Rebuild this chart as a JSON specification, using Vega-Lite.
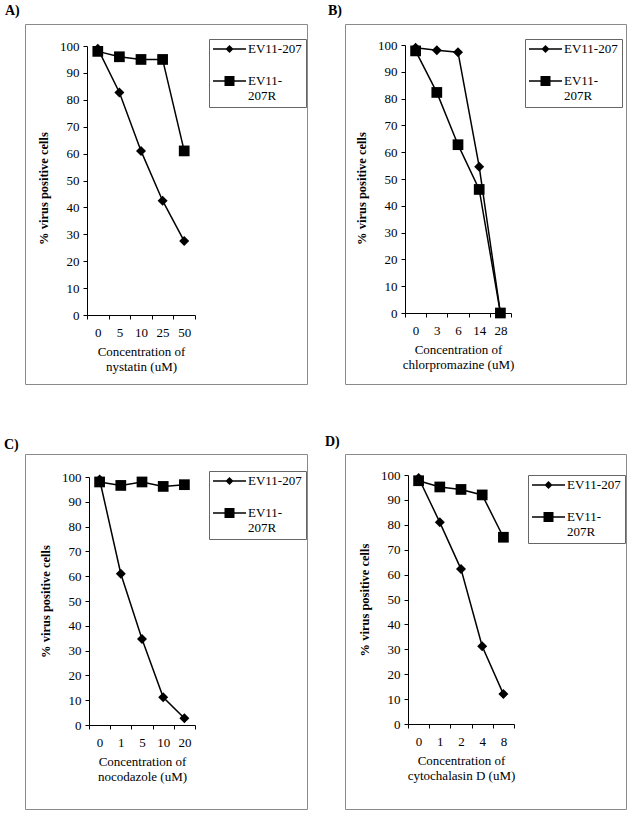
{
  "$schema": "https://vega.github.io/schema/vega-lite/v6.json",
  "padding": {"left": 3, "top": 3, "right": 0, "bottom": 0},
  "bounds": "flush",
  "columns": 2,
  "spacing": {"row": 70, "column": 38},
  "resolve": {"scale": {"shape": "independent"}, "legend": {"shape": "independent"}},
  "concat": [
    {
      "width": 282, "height": 360,
      "title": {"text": "A)", "dx": -20, "offset": 6},
      "data": {"values": [
        {"conc": "0", "series": "EV11-207", "value": 99},
        {"conc": "5", "series": "EV11-207", "value": 82.7},
        {"conc": "10", "series": "EV11-207", "value": 61},
        {"conc": "25", "series": "EV11-207", "value": 42.5},
        {"conc": "50", "series": "EV11-207", "value": 27.5},
        {"conc": "0", "series": "EV11-207R", "value": 98},
        {"conc": "5", "series": "EV11-207R", "value": 96},
        {"conc": "10", "series": "EV11-207R", "value": 95},
        {"conc": "25", "series": "EV11-207R", "value": 95},
        {"conc": "50", "series": "EV11-207R", "value": 61}
      ]},
      "encoding": {
        "x": {"field": "conc", "type": "ordinal", "sort": ["0", "5", "10", "25", "50"],
              "scale": {"range": [62, 170], "paddingInner": 0, "paddingOuter": 0},
              "axis": {"offset": -69, "tickBand": "extent", "title": ["Concentration of", "nystatin (uM)"]}},
        "y": {"field": "value", "type": "quantitative",
              "scale": {"domain": [0, 100], "range": [291, 22], "nice": false},
              "axis": {"offset": -62, "titleY": 164, "values": [0, 10, 20, 30, 40, 50, 60, 70, 80, 90, 100], "title": "% virus positive cells"}}
      },
      "layer": [
        {"mark": {"type": "line", "color": "black", "strokeWidth": 1.5}, "encoding": {"detail": {"field": "series"}}},
        {"transform": [{"filter": "datum.series == 'EV11-207'"}], "mark": {"type": "point", "shape": "diamond", "filled": true, "color": "black", "opacity": 1, "size": 100}},
        {"transform": [{"filter": "datum.series == 'EV11-207R'"}], "mark": {"type": "point", "shape": "square", "filled": true, "color": "black", "opacity": 1, "size": 115}},
        {"mark": {"type": "point", "filled": true, "color": "black", "opacity": 0},
         "encoding": {"shape": {"field": "series", "type": "nominal",
           "scale": {"domain": ["EV11-207", "EV11-207R"], "range": ["M-1,-0.47H2.3V-0.33H-1ZM0.25,-0.4L0.65,-0.8L1.05,-0.4L0.65,0Z", "M-1,-0.47H2.3V-0.33H-1ZM0.15,-0.9H1.15V0.1H0.15Z"]},
           "legend": {"orient": "none", "legendX": 184, "legendY": 15, "title": null,
                      "labelExpr": "datum.label == 'EV11-207R' ? ['EV11-', '207R'] : datum.label"}}}}
      ]
    },
    {
      "width": 281, "height": 360,
      "title": {"text": "B)", "dx": -17, "offset": 6},
      "data": {"values": [
        {"conc": "0", "series": "EV11-207", "value": 99},
        {"conc": "3", "series": "EV11-207", "value": 98},
        {"conc": "6", "series": "EV11-207", "value": 97.3},
        {"conc": "14", "series": "EV11-207", "value": 54.6},
        {"conc": "28", "series": "EV11-207", "value": 0},
        {"conc": "0", "series": "EV11-207R", "value": 97.8},
        {"conc": "3", "series": "EV11-207R", "value": 82.3},
        {"conc": "6", "series": "EV11-207R", "value": 62.8},
        {"conc": "14", "series": "EV11-207R", "value": 46.1},
        {"conc": "28", "series": "EV11-207R", "value": 0}
      ]},
      "encoding": {
        "x": {"field": "conc", "type": "ordinal", "sort": ["0", "3", "6", "14", "28"],
              "scale": {"range": [60, 166], "paddingInner": 0, "paddingOuter": 0},
              "axis": {"offset": -71, "tickBand": "extent", "title": ["Concentration of", "chlorpromazine (uM)"]}},
        "y": {"field": "value", "type": "quantitative",
              "scale": {"domain": [0, 100], "range": [289, 21], "nice": false},
              "axis": {"offset": -60, "titleY": 164, "values": [0, 10, 20, 30, 40, 50, 60, 70, 80, 90, 100], "title": "% virus positive cells"}}
      },
      "layer": [
        {"mark": {"type": "line", "color": "black", "strokeWidth": 1.5}, "encoding": {"detail": {"field": "series"}}},
        {"transform": [{"filter": "datum.series == 'EV11-207'"}], "mark": {"type": "point", "shape": "diamond", "filled": true, "color": "black", "opacity": 1, "size": 100}},
        {"transform": [{"filter": "datum.series == 'EV11-207R'"}], "mark": {"type": "point", "shape": "square", "filled": true, "color": "black", "opacity": 1, "size": 115}},
        {"mark": {"type": "point", "filled": true, "color": "black", "opacity": 0},
         "encoding": {"shape": {"field": "series", "type": "nominal",
           "scale": {"domain": ["EV11-207", "EV11-207R"], "range": ["M-1,-0.47H2.3V-0.33H-1ZM0.25,-0.4L0.65,-0.8L1.05,-0.4L0.65,0Z", "M-1,-0.47H2.3V-0.33H-1ZM0.15,-0.9H1.15V0.1H0.15Z"]},
           "legend": {"orient": "none", "legendX": 180, "legendY": 15, "title": null,
                      "labelExpr": "datum.label == 'EV11-207R' ? ['EV11-', '207R'] : datum.label"}}}}
      ]
    },
    {
      "width": 282, "height": 355,
      "title": {"text": "C)", "dx": -21, "offset": 2},
      "data": {"values": [
        {"conc": "0", "series": "EV11-207", "value": 99},
        {"conc": "1", "series": "EV11-207", "value": 61},
        {"conc": "5", "series": "EV11-207", "value": 34.7},
        {"conc": "10", "series": "EV11-207", "value": 11.2},
        {"conc": "20", "series": "EV11-207", "value": 2.7},
        {"conc": "0", "series": "EV11-207R", "value": 98},
        {"conc": "1", "series": "EV11-207R", "value": 96.6},
        {"conc": "5", "series": "EV11-207R", "value": 98},
        {"conc": "10", "series": "EV11-207R", "value": 96.2},
        {"conc": "20", "series": "EV11-207R", "value": 96.9}
      ]},
      "encoding": {
        "x": {"field": "conc", "type": "ordinal", "sort": ["0", "1", "5", "10", "20"],
              "scale": {"range": [64, 170], "paddingInner": 0, "paddingOuter": 0},
              "axis": {"offset": -84, "tickBand": "extent", "title": ["Concentration of", "nocodazole (uM)"]}},
        "y": {"field": "value", "type": "quantitative",
              "scale": {"domain": [0, 100], "range": [271, 23], "nice": false},
              "axis": {"offset": -64, "values": [0, 10, 20, 30, 40, 50, 60, 70, 80, 90, 100], "title": "% virus positive cells"}}
      },
      "layer": [
        {"mark": {"type": "line", "color": "black", "strokeWidth": 1.5}, "encoding": {"detail": {"field": "series"}}},
        {"transform": [{"filter": "datum.series == 'EV11-207'"}], "mark": {"type": "point", "shape": "diamond", "filled": true, "color": "black", "opacity": 1, "size": 100}},
        {"transform": [{"filter": "datum.series == 'EV11-207R'"}], "mark": {"type": "point", "shape": "square", "filled": true, "color": "black", "opacity": 1, "size": 115}},
        {"mark": {"type": "point", "filled": true, "color": "black", "opacity": 0},
         "encoding": {"shape": {"field": "series", "type": "nominal",
           "scale": {"domain": ["EV11-207", "EV11-207R"], "range": ["M-1,-0.47H2.3V-0.33H-1ZM0.25,-0.4L0.65,-0.8L1.05,-0.4L0.65,0Z", "M-1,-0.47H2.3V-0.33H-1ZM0.15,-0.9H1.15V0.1H0.15Z"]},
           "legend": {"orient": "none", "legendX": 184, "legendY": 17, "title": null,
                      "labelExpr": "datum.label == 'EV11-207R' ? ['EV11-', '207R'] : datum.label"}}}}
      ]
    },
    {
      "width": 281, "height": 355,
      "title": {"text": "D)", "dx": -20, "offset": 5},
      "data": {"values": [
        {"conc": "0", "series": "EV11-207", "value": 98.8},
        {"conc": "1", "series": "EV11-207", "value": 81},
        {"conc": "2", "series": "EV11-207", "value": 62.2},
        {"conc": "4", "series": "EV11-207", "value": 31.2},
        {"conc": "8", "series": "EV11-207", "value": 12},
        {"conc": "0", "series": "EV11-207R", "value": 97.7},
        {"conc": "1", "series": "EV11-207R", "value": 95.2},
        {"conc": "2", "series": "EV11-207R", "value": 94.2},
        {"conc": "4", "series": "EV11-207R", "value": 92},
        {"conc": "8", "series": "EV11-207R", "value": 75}
      ]},
      "encoding": {
        "x": {"field": "conc", "type": "ordinal", "sort": ["0", "1", "2", "4", "8"],
              "scale": {"range": [63, 169], "paddingInner": 0, "paddingOuter": 0},
              "axis": {"offset": -85, "tickBand": "extent", "title": ["Concentration of", "cytochalasin D (uM)"]}},
        "y": {"field": "value", "type": "quantitative",
              "scale": {"domain": [0, 100], "range": [270, 21], "nice": false},
              "axis": {"offset": -63, "values": [0, 10, 20, 30, 40, 50, 60, 70, 80, 90, 100], "title": "% virus positive cells"}}
      },
      "layer": [
        {"mark": {"type": "line", "color": "black", "strokeWidth": 1.5}, "encoding": {"detail": {"field": "series"}}},
        {"transform": [{"filter": "datum.series == 'EV11-207'"}], "mark": {"type": "point", "shape": "diamond", "filled": true, "color": "black", "opacity": 1, "size": 100}},
        {"transform": [{"filter": "datum.series == 'EV11-207R'"}], "mark": {"type": "point", "shape": "square", "filled": true, "color": "black", "opacity": 1, "size": 115}},
        {"mark": {"type": "point", "filled": true, "color": "black", "opacity": 0},
         "encoding": {"shape": {"field": "series", "type": "nominal",
           "scale": {"domain": ["EV11-207", "EV11-207R"], "range": ["M-1,-0.47H2.3V-0.33H-1ZM0.25,-0.4L0.65,-0.8L1.05,-0.4L0.65,0Z", "M-1,-0.47H2.3V-0.33H-1ZM0.15,-0.9H1.15V0.1H0.15Z"]},
           "legend": {"orient": "none", "legendX": 183, "legendY": 21, "title": null,
                      "labelExpr": "datum.label == 'EV11-207R' ? ['EV11-', '207R'] : datum.label"}}}}
      ]
    }
  ],
  "config": {
    "background": "white",
    "font": "Liberation Serif",
    "view": {"stroke": "#8a8a8a", "strokeWidth": 1},
    "title": {"anchor": "start", "frame": "group", "baseline": "bottom", "font": "Liberation Serif", "fontSize": 14, "fontWeight": "bold", "color": "black"},
    "axis": {"domainColor": "black", "domainWidth": 1, "tickColor": "black", "tickSize": 4, "tickWidth": 1,
             "labelFont": "Liberation Serif", "labelFontSize": 13, "labelColor": "black", "grid": false,
             "titleFont": "Liberation Serif", "titleColor": "black"},
    "axisX": {"labelPadding": 7, "labelAngle": 0, "titleFontSize": 13, "titleFontWeight": "normal", "titlePadding": 6, "titleLineHeight": 15},
    "axisY": {"labelPadding": 4, "titleFontSize": 12.5, "titleFontWeight": "bold", "titlePadding": 9},
    "legend": {"strokeColor": "#666666", "padding": 4, "symbolSize": 400, "symbolOpacity": 1, "symbolStrokeWidth": 0,
               "symbolFillColor": "black",
               "labelFont": "Liberation Serif", "labelFontSize": 13, "labelColor": "black", "labelBaseline": "alphabetic",
               "labelOffset": 15, "rowPadding": 19, "labelLimit": 200}
  }
}
